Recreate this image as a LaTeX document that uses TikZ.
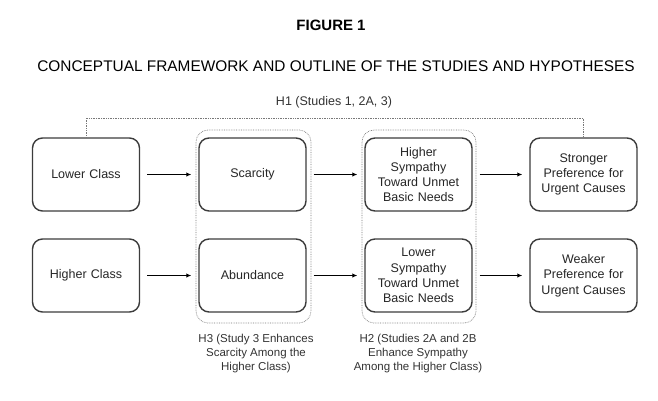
\documentclass[tikz,border=0pt]{standalone}
\usepackage{fontspec}
\setmainfont{Liberation Sans}
\usepackage{tikz}
\usetikzlibrary{arrows.meta}
\definecolor{boxline}{RGB}{60,60,60}
\definecolor{dotgray}{RGB}{120,120,120}

\tikzset{
  box/.style={draw=boxline, line width=1.4pt, rounded corners=10pt, fill=white,
    minimum width=107pt, minimum height=73pt, align=center, text width=100pt,
    font=\fontsize{12.5}{15.3}\selectfont, text=black!85},
  grp/.style={draw=dotgray, densely dotted, line width=0.7pt, rounded corners=12pt},
  arr/.style={-{Latex[length=5pt,width=4.5pt]}, line width=1.3pt, shorten <=7pt, shorten >=7pt},
  note/.style={align=center, font=\fontsize{11.5}{13.6}\selectfont, text=black!80}
}

\begin{document}
\begin{tikzpicture}[x=1pt, y=-1pt]
  \useasboundingbox (0,0) rectangle (658,400);
  % titles
  \node[font=\fontsize{15}{18}\selectfont\bfseries] (fig) at (331,25) {FIGURE 1};
  \node[font=\fontsize{15.4}{18}\selectfont] (title) at (336,66)
    {CONCEPTUAL FRAMEWORK AND OUTLINE OF THE STUDIES AND HYPOTHESES};
  % dotted groups
  \draw[grp] (196,130) rectangle (311,323);
  \draw[grp] (362,130) rectangle (476,323);
  % upper row
  \node[box] (lower) at (86,174.5) {Lower Class};
  \node[box] (scarcity) at (252.5,174.5) {Scarcity};
  \node[box] (highsym) at (418.5,174.5) {Higher\\Sympathy\\Toward Unmet\\Basic Needs};
  \node[box] (strong) at (583.5,174.5) {Stronger\\Preference for\\Urgent Causes};
  % lower row
  \node[box] (higher) at (86,275.5) {Higher Class};
  \node[box] (abundance) at (252.5,275.5) {Abundance};
  \node[box] (lowsym) at (418.5,275.5) {Lower\\Sympathy\\Toward Unmet\\Basic Needs};
  \node[box] (weak) at (583.5,275.5) {Weaker\\Preference for\\Urgent Causes};
  % arrows
  \draw[arr] (lower) -- (scarcity);
  \draw[arr] (scarcity) -- (highsym);
  \draw[arr] (highsym) -- (strong);
  \draw[arr] (higher) -- (abundance);
  \draw[arr] (abundance) -- (lowsym);
  \draw[arr] (lowsym) -- (weak);
  % H1 link
  \draw[draw=dotgray, densely dotted, line width=0.7pt] (lower.north) -- ++(0,-19) -| (strong.north);
  \node[note, font=\fontsize{12.5}{15}\selectfont] (h1) at (334,102) {H1 (Studies 1, 2A, 3)};
  \node[note] (h3) at (256,353.5) {H3 (Study 3 Enhances\\Scarcity Among the\\Higher Class)};
  \node[note] (h2) at (418,353.5) {H2 (Studies 2A and 2B\\Enhance Sympathy\\Among the Higher Class)};
\end{tikzpicture}
\end{document}
